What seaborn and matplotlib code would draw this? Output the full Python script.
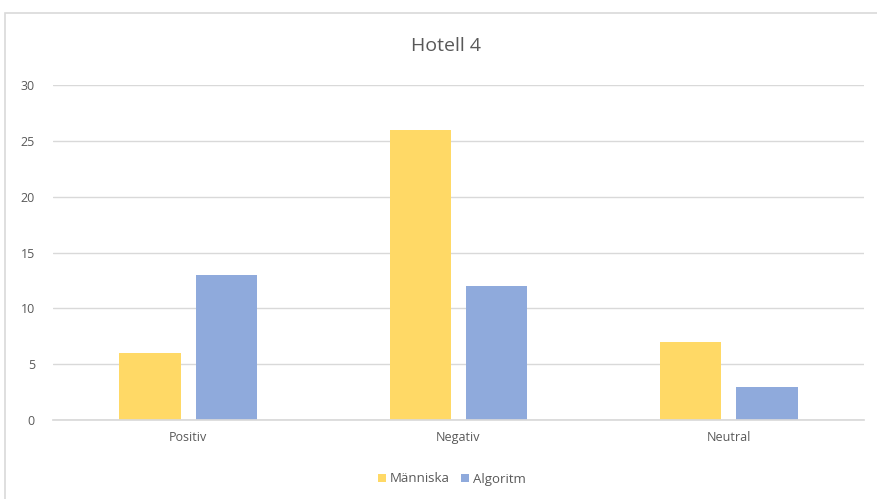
import matplotlib
matplotlib.use("Agg")
import matplotlib.pyplot as plt
import seaborn as sns
import pandas as pd
from matplotlib.patches import Rectangle, Patch

categories = ["Positiv", "Negativ", "Neutral"]
series_names = ["Människa", "Algoritm"]
manniska = [6, 26, 7]
algoritm = [13, 12, 3]
yticks = [0, 5, 10, 15, 20, 25, 30]
colors = ["#FFD966", "#8FAADC"]

df = pd.DataFrame({
    "Kategori": categories * 2,
    "Serie": [series_names[0]] * 3 + [series_names[1]] * 3,
    "Värde": manniska + algoritm,
})

sns.set_theme(style="white")
plt.rcParams["font.family"] = ["Open Sans", "DejaVu Sans"]

fig = plt.figure(figsize=(8.77, 4.99), dpi=100)
ax = fig.add_axes([53/877, 1-420/499, (864-53)/877, (420-85)/499])

sns.barplot(data=df, x="Kategori", y="Värde", hue="Serie", order=categories,
            hue_order=series_names, palette=colors, width=0.565, gap=0.2,
            saturation=1, ax=ax, legend=False, linewidth=0)

ax.set_ylim(0, 30)
ax.set_yticks(yticks)
ax.set_xlim(-0.5, 2.5)
ax.yaxis.grid(True, color="#D9D9D9", linewidth=1)
ax.set_axisbelow(True)
for s in ["top", "right", "left"]:
    ax.spines[s].set_visible(False)
ax.spines["bottom"].set_color("#D9D9D9")
ax.tick_params(axis="both", length=0, labelsize=9, colors="#595959")
ax.tick_params(axis="y", pad=13)
ax.tick_params(axis="x", pad=8)
ax.set_xlabel("")
ax.set_ylabel("")

fig.text(446/877, 1-46/499, "Hotell 4", ha="center", va="center",
         fontsize=14, color="#595959")

handles = [Patch(facecolor=c, edgecolor="none") for c in colors]
fig.legend(handles, series_names, loc="center", bbox_to_anchor=(452/877, 1-479/499),
           ncol=2, frameon=False, fontsize=9.5, handlelength=0.6, handleheight=0.6,
           handletextpad=0.3, columnspacing=0.9, labelcolor="#595959")

fig.patches.append(Rectangle((5/877, -0.1), 1.1, 1 - 13/499 + 0.1,
                             transform=fig.transFigure, fill=False,
                             edgecolor="#D9D9D9", linewidth=1.2))

fig.savefig("out.png", dpi=100, facecolor="white")
